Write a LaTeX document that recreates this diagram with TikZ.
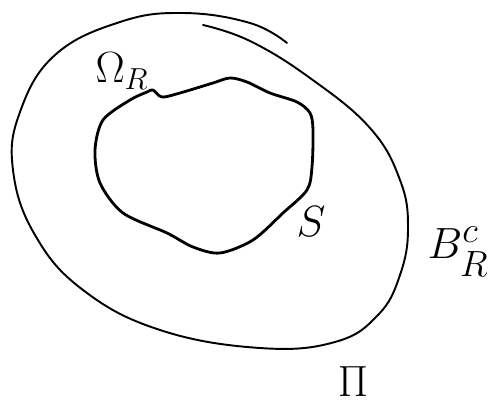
\documentclass[tikz,border=0pt]{standalone}
\usepackage{amsmath, amssymb}
\usetikzlibrary{positioning}
\tikzset{
  outerline/.style={line width=1.1pt, line join=round, line cap=round},
  innerline/.style={line width=1.6pt, line join=round, line cap=round},
  handlabel/.style={inner sep=0pt, anchor=center}
}

\begin{document}
\begin{tikzpicture}[x=0.02cm, y=-0.02cm]
  \useasboundingbox (0,0) rectangle (495,419);
  % outer region boundary (open stroke, ends overlap at the top)
  \draw[outerline] plot[smooth, tension=0.7] coordinates {
    (287,43) (250,23) (183,13) (120,22) (55,55) (20,112) (13,170)
    (35,235) (83,290) (160,330) (260,348) (335,342) (378,315) (400,275)
    (408,228) (400,180) (370,128) (310,78) (250,41) (203,25)};
  % obstacle S
  \draw[innerline] plot[smooth cycle, tension=0.5] coordinates {
    (230,78) (247,82) (270,93) (297,102) (310,113) (313,130) (312,167)
    (307,190) (283,213) (253,240) (220,253) (193,247) (167,233) (123,213)
    (100,183) (95,150) (103,120) (130,100) (147,92) (153,90) (162,97)
    (180,93) (213,83)};
  \node[handlabel, font=\fontsize{26}{30}\selectfont] (omegaR) at (122,71) {$\Omega_R$};
  \node[handlabel, font=\fontsize{32}{36}\selectfont] (sname) at (311,222) {$S$};
  \node[handlabel, font=\fontsize{32}{36}\selectfont] (bcomp) at (458,252) {$B_R^c$};
  \node[handlabel, font=\fontsize{30}{34}\selectfont] (piname) at (353,382) {$\Pi$};
\end{tikzpicture}
\end{document}
